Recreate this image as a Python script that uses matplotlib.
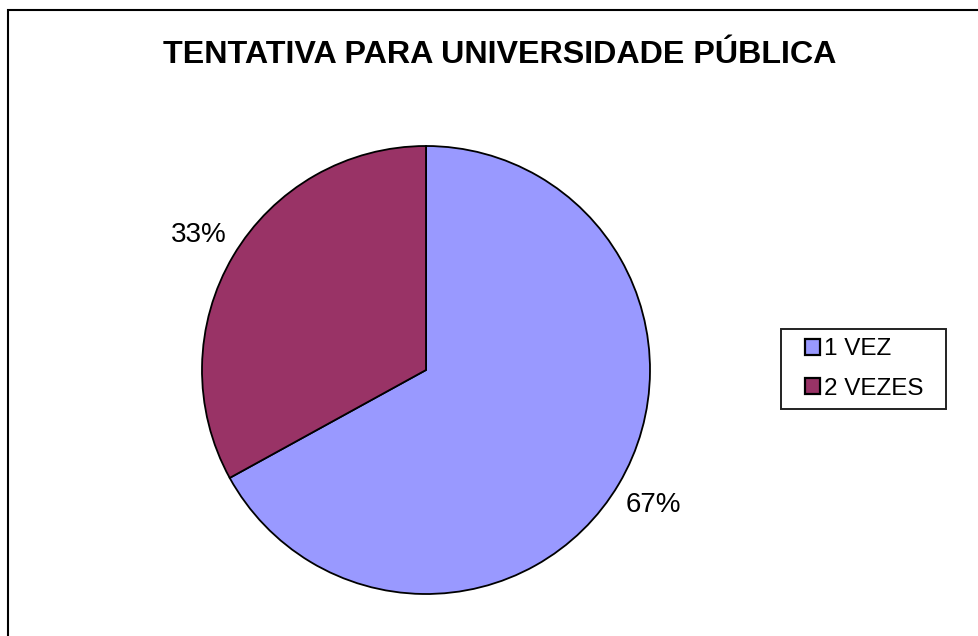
import numpy as np
import matplotlib.pyplot as plt
from matplotlib.patches import Rectangle, Patch

categories = ['1 VEZ', '2 VEZES']
values = [67, 33]
colors = ['#9999FF', '#993366']
title = 'TENTATIVA PARA UNIVERSIDADE PÚBLICA'

W, H = 979, 636


def px(x, y):
    # pixel (from top-left) -> figure fraction
    return x / W, 1 - y / H


def main():
    plt.rcParams['font.family'] = ['Liberation Sans', 'DejaVu Sans']
    fig = plt.figure(figsize=(W / 100, H / 100), dpi=100)

    # outer chart border (only top and left are inside the picture)
    fig.patches.append(Rectangle((8 / W, -0.1), 1.2, (H - 10) / H + 0.1,
                                 transform=fig.transFigure, fill=False,
                                 edgecolor='#000000', linewidth=1.5))

    ax = fig.add_axes([202 / W, 42 / H, 448 / W, 448 / H])
    wedges, texts = ax.pie(values, colors=colors, startangle=90, counterclock=False,
                           wedgeprops=dict(edgecolor='black', linewidth=1.3))
    total = sum(values)
    ang = 90.0
    for v in values:
        mid = ang - v / total * 180
        ang -= v / total * 360
        r = 1.18
        ax.text(r * np.cos(np.radians(mid)), r * np.sin(np.radians(mid)),
                '%d%%' % round(v / total * 100), ha='center', va='center', fontsize=20)
    ax.set_xlim(-1, 1)
    ax.set_ylim(-1, 1)
    ax.set_aspect('equal')
    ax.axis('off')

    fig.text(*px(500, 55), title, ha='center', va='center',
             fontsize=23.2, fontweight='bold')

    # legend frame
    x0, y0 = px(781, 409)
    fig.patches.append(Rectangle((x0, y0), (946 - 781) / W, (409 - 329) / H,
                                 transform=fig.transFigure, fill=False,
                                 edgecolor='#222222', linewidth=1.4))
    handles = [Patch(facecolor=c, edgecolor='black', linewidth=1.6) for c in colors]
    fig.legend(handles, categories, loc='center', bbox_to_anchor=px(864.5, 369),
               fontsize=17.5, frameon=False, handlelength=0.6,
               handleheight=0.6, handletextpad=0.2, borderpad=0, labelspacing=0.7,
               borderaxespad=0)

    fig.savefig('out.png', dpi=100)


if __name__ == '__main__':
    main()
